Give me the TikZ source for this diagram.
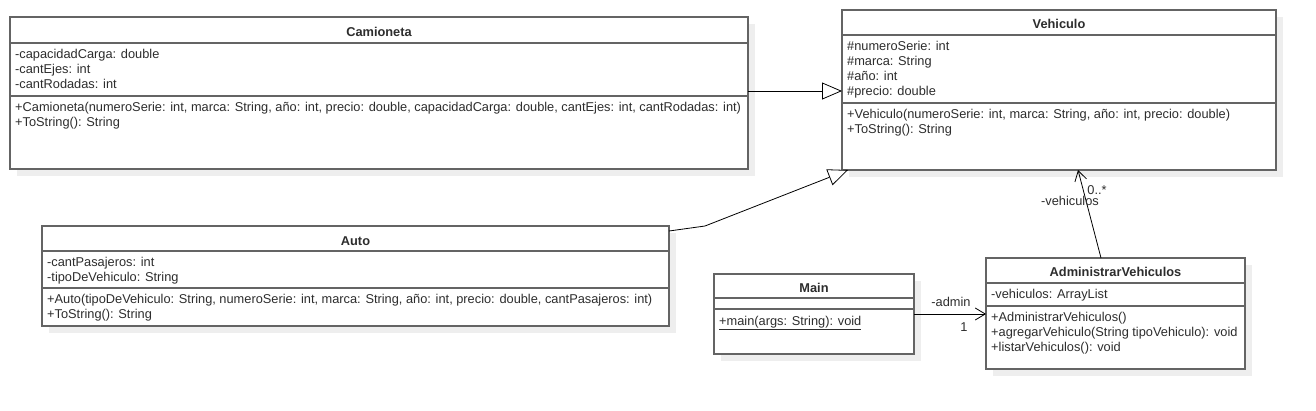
\documentclass[tikz,border=0pt]{standalone}
\usepackage{fontspec}
\setmainfont{Liberation Sans}
\usetikzlibrary{arrows.meta,calc}
\definecolor{bordercol}{RGB}{100,100,100}
\definecolor{shadowcol}{RGB}{238,238,238}
\definecolor{textcol}{RGB}{45,45,45}
\tikzset{
  shadowbox/.style={fill=shadowcol, draw=none, inner sep=0pt, outer sep=0pt, anchor=north west},
  classbox/.style={draw=bordercol, line width=1.3pt, fill=white, inner sep=0pt, outer sep=0pt, anchor=north west},
  sepline/.style={draw=bordercol, line width=1.3pt},
  ttl/.style={font=\fontsize{12.8}{15}\selectfont\bfseries, anchor=base, inner sep=0pt, text=textcol},
  txt/.style={anchor=base west, inner sep=0pt, text=textcol},
  lbl/.style={anchor=base, inner sep=0pt, text=textcol},
  conn/.style={draw=black, line width=0.8pt},
  gen/.style={conn, -{Triangle[open, length=20pt, width=17pt, fill=white]}},
  assoc/.style={conn, -{Straight Barb[length=10pt, width=12pt]}}
}
\begin{document}
\begin{tikzpicture}[x=1pt, y=1pt, font=\fontsize{12.8}{15}\selectfont]
\fill[white] (0,0) rectangle (1316,-410);
\useasboundingbox (0,0) rectangle (1316,-410);

% ---------- shadows ----------
\node[shadowbox, minimum width=738pt, minimum height=152pt] (camS) at (17,-24) {};
\node[shadowbox, minimum width=434pt, minimum height=160pt] (vehS) at (849,-17) {};
\node[shadowbox, minimum width=627pt, minimum height=100pt] (autoS) at (49,-233) {};
\node[shadowbox, minimum width=200pt, minimum height=80pt] (mainS) at (721,-281) {};
\node[shadowbox, minimum width=259pt, minimum height=111pt] (admS) at (993,-265) {};

% ---------- boxes ----------
\node[classbox, minimum width=738pt, minimum height=152pt] (cam) at (10,-17) {};
\node[classbox, minimum width=434pt, minimum height=160pt] (veh) at (842,-10) {};
\node[classbox, minimum width=627pt, minimum height=100pt] (auto) at (42,-226) {};
\node[classbox, minimum width=200pt, minimum height=80pt] (main) at (714,-274) {};
\node[classbox, minimum width=259pt, minimum height=111pt] (adm) at (986,-258) {};

% ---------- Camioneta ----------
\draw[sepline] ($(cam.north west)+(0,-26)$) -- ($(cam.north east)+(0,-26)$);
\draw[sepline] ($(cam.north west)+(0,-79)$) -- ($(cam.north east)+(0,-79)$);
\node[ttl] (camT) at ($(cam.north)+(0,-19)$) {Camioneta};
\node[txt] (camA1) at ($(cam.north west)+(5,-41)$) {-capacidadCarga: double};
\node[txt] (camA2) at ($(cam.north west)+(5,-56)$) {-cantEjes: int};
\node[txt] (camA3) at ($(cam.north west)+(5,-71)$) {-cantRodadas: int};
\node[txt] (camM1) at ($(cam.north west)+(5,-94.5)$) {+Camioneta(numeroSerie: int, marca: String, año: int, precio: double, capacidadCarga: double, cantEjes: int, cantRodadas: int)};
\node[txt] (camM2) at ($(cam.north west)+(5,-109.5)$) {+ToString(): String};

% ---------- Vehiculo ----------
\draw[sepline] ($(veh.north west)+(0,-25)$) -- ($(veh.north east)+(0,-25)$);
\draw[sepline] ($(veh.north west)+(0,-93)$) -- ($(veh.north east)+(0,-93)$);
\node[ttl] (vehT) at ($(veh.north)+(0,-18.5)$) {Vehiculo};
\node[txt] (vehA1) at ($(veh.north west)+(5,-40)$) {\#numeroSerie: int};
\node[txt] (vehA2) at ($(veh.north west)+(5,-55)$) {\#marca: String};
\node[txt] (vehA3) at ($(veh.north west)+(5,-70)$) {\#año: int};
\node[txt] (vehA4) at ($(veh.north west)+(5,-85)$) {\#precio: double};
\node[txt] (vehM1) at ($(veh.north west)+(5,-108.5)$) {+Vehiculo(numeroSerie: int, marca: String, año: int, precio: double)};
\node[txt] (vehM2) at ($(veh.north west)+(5,-123.5)$) {+ToString(): String};

% ---------- Auto ----------
\draw[sepline] ($(auto.north west)+(0,-25)$) -- ($(auto.north east)+(0,-25)$);
\draw[sepline] ($(auto.north west)+(0,-62)$) -- ($(auto.north east)+(0,-62)$);
\node[ttl] (autoT) at ($(auto.north)+(0,-19)$) {Auto};
\node[txt] (autoA1) at ($(auto.north west)+(5,-40)$) {-cantPasajeros: int};
\node[txt] (autoA2) at ($(auto.north west)+(5,-55)$) {-tipoDeVehiculo: String};
\node[txt] (autoM1) at ($(auto.north west)+(5,-77.5)$) {+Auto(tipoDeVehiculo: String, numeroSerie: int, marca: String, año: int, precio: double, cantPasajeros: int)};
\node[txt] (autoM2) at ($(auto.north west)+(5,-92.5)$) {+ToString(): String};

% ---------- Main ----------
\draw[sepline] ($(main.north west)+(0,-24)$) -- ($(main.north east)+(0,-24)$);
\draw[sepline] ($(main.north west)+(0,-35)$) -- ($(main.north east)+(0,-35)$);
\node[ttl] (mainT) at ($(main.north)+(0,-18.5)$) {Main};
\node[txt] (mainM1) at ($(main.north west)+(5,-51)$) {\underline{+main(args: String): void}};

% ---------- AdministrarVehiculos ----------
\draw[sepline] ($(adm.north west)+(0,-25)$) -- ($(adm.north east)+(0,-25)$);
\draw[sepline] ($(adm.north west)+(0,-48)$) -- ($(adm.north east)+(0,-48)$);
\node[ttl] (admT) at ($(adm.north)+(0,-18.5)$) {AdministrarVehiculos};
\node[txt] (admA1) at ($(adm.north west)+(5,-40)$) {-vehiculos: ArrayList};
\node[txt] (admM1) at ($(adm.north west)+(5,-63)$) {+AdministrarVehiculos()};
\node[txt] (admM2) at ($(adm.north west)+(5,-78)$) {+agregarVehiculo(String tipoVehiculo): void};
\node[txt] (admM3) at ($(adm.north west)+(5,-93)$) {+listarVehiculos(): void};

% ---------- connectors ----------
\draw[gen] ($(cam.north east)+(0,-74)$) -- ($(veh.north west)+(0,-81)$);
\coordinate (bend1) at (705,-226);
\draw[gen] ($(auto.north east)+(0,-5)$) -- (bend1) -- ($(veh.south west)+(6,0)$);
\draw[assoc] ($(adm.north west)+(115,0)$) -- ($(veh.south west)+(236,0)$);
\draw[assoc] ($(main.north east)+(0,-40)$) -- ($(adm.north west)+(0,-56)$);

% ---------- labels ----------
\node[lbl] (lvehic) at (1070,-205) {-vehiculos};
\node[lbl] (lmult) at (1097,-194) {0..*};
\node[lbl] (ladmin) at (951,-306) {-admin};
\node[lbl] (lone) at (964,-331.5) {1};
\end{tikzpicture}
\end{document}
